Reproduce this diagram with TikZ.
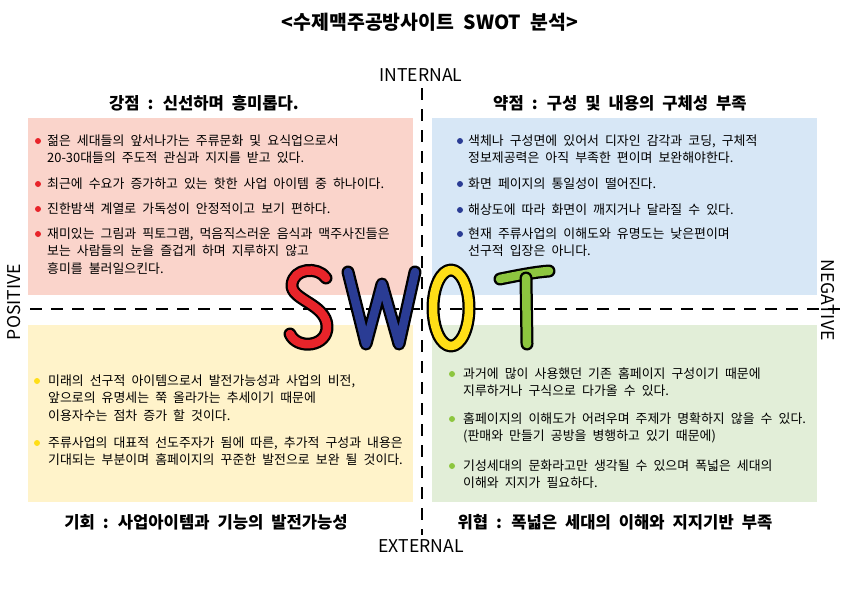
\documentclass[tikz,border=0pt]{standalone}
\usepackage{fontspec}
\setmainfont{Noto Sans CJK KR}[WordSpace=2.1]
\definecolor{pinkbox}{RGB}{250,212,203}
\definecolor{bluebox}{RGB}{215,231,246}
\definecolor{yellowbox}{RGB}{255,243,202}
\definecolor{greenbox}{RGB}{226,238,216}
\definecolor{sred}{RGB}{232,36,42}
\definecolor{wblue}{RGB}{42,60,148}
\definecolor{oyellow}{RGB}{255,222,23}
\definecolor{tgreen}{RGB}{141,198,63}
\newcommand\itemlines[1]{\begin{tabular}[t]{@{}l@{}}#1\end{tabular}}
\begin{document}
\begin{tikzpicture}[x=1pt,y=-1pt,
  item/.style={anchor=base west, inner sep=0pt, font=\fontsize{12.9}{17.5}\selectfont},
  head/.style={inner sep=0pt, font=\fontsize{16.6}{18}\selectfont\bfseries},
  titlestyle/.style={inner sep=0pt, font=\fontsize{19.4}{22}\selectfont\bfseries},
  axislabel/.style={inner sep=0pt, font=\fontsize{17.6}{19}\selectfont},
  dot/.style={circle, inner sep=0pt, minimum size=6pt},
  dashline/.style={line width=2pt, dash pattern=on 12pt off 9pt},
  letter/.style={line width=8.5pt, line cap=round, line join=round, preaction={draw=black, line width=13pt, line cap=round, line join=round}}]
\useasboundingbox[fill=white] (0,0) rectangle (842,595);

% boxes
\fill[pinkbox] (28,118) rectangle (413,295);
\fill[bluebox] (432,118) rectangle (817,295);
\fill[yellowbox] (28,325) rectangle (413,502);
\fill[greenbox] (432,325) rectangle (817,502);

% title and headings
\node[titlestyle] (title) at (430,22) {<수제맥주공방사이트 SWOT 분석>};
\node[head] (hs) at (204,103) {강점 : 신선하며 흥미롭다.};
\node[head] (hw) at (620,103) {약점 : 구성 및 내용의 구체성 부족};
\node[head] (ho) at (206,522) {기회 : 사업아이템과 기능의 발전가능성};
\node[head] (ht) at (615,522) {위협 : 폭넓은 세대의 이해와 지지기반 부족};

% axis labels
\node[axislabel] (internal) at (421,75) {INTERNAL};
\node[axislabel] (external) at (421,546) {EXTERNAL};
\node[axislabel, rotate=90] (positive) at (14,302) {POSITIVE};
\node[axislabel, rotate=-90] (negative) at (828,300) {NEGATIVE};

% strengths
\node[dot, fill=sred] (s1d) at (38,141) {};
\node[item] (s1) at (47,145) {\itemlines{젊은 세대들의 앞서나가는 주류문화 및 요식업으로서\\20-30대들의 주도적 관심과 지지를 받고 있다.}};
\node[dot, fill=sred] (s2d) at (38,184) {};
\node[item] (s2) at (47,188) {최근에 수요가 증가하고 있는 핫한 사업 아이템 중 하나이다.};
\node[dot, fill=sred] (s3d) at (38,209) {};
\node[item] (s3) at (47,213) {진한밤색 계열로 가독성이 안정적이고 보기 편하다.};
\node[dot, fill=sred] (s4d) at (38,234) {};
\node[item] (s4) at (47,238) {\itemlines{재미있는 그림과 픽토그램, 먹음직스러운 음식과 맥주사진들은\\보는 사람들의 눈을 즐겁게 하며 지루하지 않고\\흥미를 불러일으킨다.}};

% weaknesses
\node[dot, fill=wblue] (w1d) at (460,141) {};
\node[item] (w1) at (468,145) {\itemlines{색체나 구성면에 있어서 디자인 감각과 코딩, 구체적\\정보제공력은 아직 부족한 편이며 보완해야한다.}};
\node[dot, fill=wblue] (w2d) at (460,184) {};
\node[item] (w2) at (468,188) {화면 페이지의 통일성이 떨어진다.};
\node[dot, fill=wblue] (w3d) at (460,210) {};
\node[item] (w3) at (468,214) {해상도에 따라 화면이 깨지거나 달라질 수 있다.};
\node[dot, fill=wblue] (w4d) at (460,234) {};
\node[item] (w4) at (468,238) {\itemlines{현재 주류사업의 이해도와 유명도는 낮은편이며\\선구적 입장은 아니다.}};

% opportunities
\node[dot, fill=oyellow] (o1d) at (37,381) {};
\node[item] (o1) at (48,385) {\itemlines{미래의 선구적 아이템으로서 발전가능성과 사업의 비전,\\앞으로의 유명세는 쭉 올라가는 추세이기 때문에\\이용자수는 점차 증가 할 것이다.}};
\node[dot, fill=oyellow] (o2d) at (37,443) {};
\node[item] (o2) at (48,447) {\itemlines{주류사업의 대표적 선도주자가 됨에 따른, 추가적 구성과 내용은\\기대되는 부분이며 홈페이지의 꾸준한 발전으로 보완 될 것이다.}};

% threats
\node[dot, fill=tgreen] (t1d) at (452,374) {};
\node[item] (t1) at (463,378) {\itemlines{과거에 많이 사용했던 기존 홈페이지 구성이기 때문에\\지루하거나 구식으로 다가올 수 있다.}};
\node[dot, fill=tgreen] (t2d) at (452,419) {};
\node[item] (t2) at (463,423) {\itemlines{홈페이지의 이해도가 어려우며 주제가 명확하지 않을 수 있다.\\(판매와 만들기 공방을 병행하고 있기 때문에)}};
\node[dot, fill=tgreen] (t3d) at (452,466) {};
\node[item] (t3) at (463,470) {\itemlines{기성세대의 문화라고만 생각될 수 있으며 폭넓은 세대의\\이해와 지지가 필요하다.}};

% axes
\draw[dashline] (30,309) -- (840,309);
\draw[dashline] (422,88) -- (422,535);

% SWOT letters
\draw[letter, sred] (326,278) .. controls (318,266) and (293,268) .. (292,285)
  .. controls (291,300) and (326,304) .. (327,326)
  .. controls (328,347) and (297,350) .. (290,334);
\draw[letter, wblue] (348,272) -- (366,344) -- (382,284) -- (399,344) -- (415,272);
\draw[letter, oyellow] (451,308) ellipse [x radius=18, y radius=38];
\draw[letter, tgreen] (500,279) .. controls (520,275) and (535,272) .. (549,271);
\draw[letter, tgreen] (526,278) -- (527,344);
\end{tikzpicture}
\end{document}
